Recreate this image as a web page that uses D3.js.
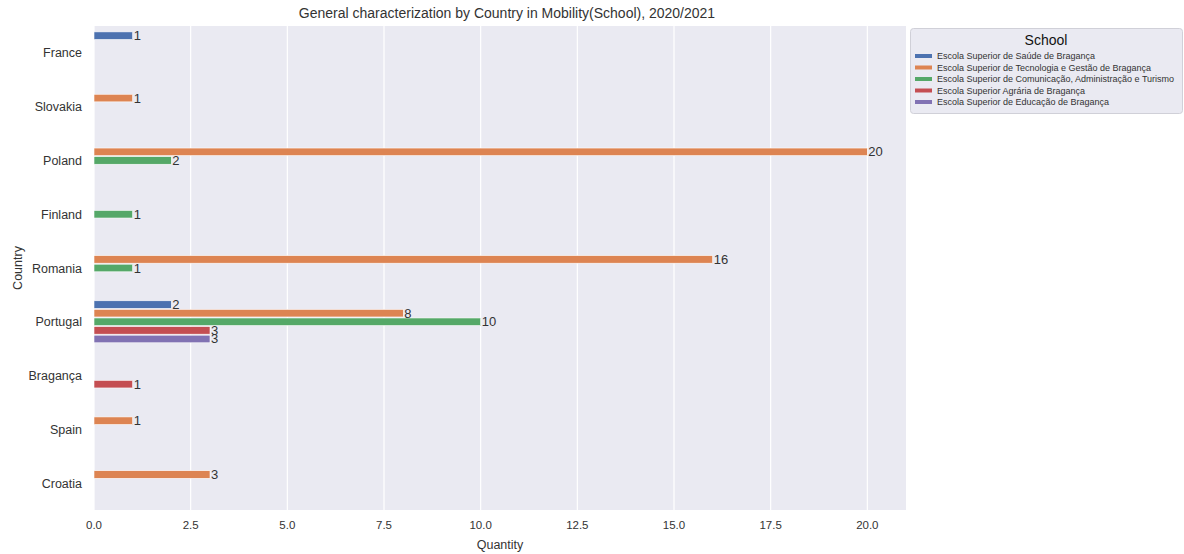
<!DOCTYPE html>
<html><head><meta charset="utf-8">
<script src="https://cdn.jsdelivr.net/npm/d3@7"></script>
<style>body{margin:0;background:#fff;font-family:"Liberation Sans",Arial,sans-serif;}</style>
</head><body>
<svg id="c" width="1184" height="554"></svg>
<script>
const countries = ["France","Slovakia","Poland","Finland","Romania","Portugal","Bragança","Spain","Croatia"];
const schools = ["Escola Superior de Saúde de Bragança","Escola Superior de Tecnologia e Gestão de Bragança","Escola Superior de Comunicação, Administração e Turismo","Escola Superior Agrária de Bragança","Escola Superior de Educação de Bragança"];
const colors = ["#4c72b0","#dd8452","#55a868","#c44e52","#8172b3"];
// values per school, aligned with countries (null = no bar)
const saude     = [1,null,null,null,null,2,null,null,null];
const tecnologia= [null,1,20,null,16,8,null,1,3];
const comunicacao=[null,null,2,1,1,10,null,null,null];
const agraria   = [null,null,null,null,null,3,1,null,null];
const educacao  = [null,null,null,null,null,3,null,null,null];
const series = [saude,tecnologia,comunicacao,agraria,educacao];
const xTicks = [0,2.5,5,7.5,10,12.5,15,17.5,20];

const svg = d3.select("#c");
const m = {l:94, r:906, t:26, b:510};
const x = d3.scaleLinear().domain([0,21]).range([m.l,m.r]);
const y0 = d3.scaleBand().domain(countries).range([m.t,m.b]);
const inner = d3.scaleBand().domain(d3.range(schools.length)).range([0,y0.bandwidth()*0.8]);

svg.append("rect").attr("x",m.l).attr("y",m.t).attr("width",m.r-m.l).attr("height",m.b-m.t).attr("fill","#eaeaf2");
svg.append("g").selectAll("line").data(xTicks).join("line")
  .attr("x1",d=>x(d)).attr("x2",d=>x(d)).attr("y1",m.t).attr("y2",m.b)
  .attr("stroke","#fff").attr("stroke-width",1.2);

const bars = [];
series.forEach((s,i)=>s.forEach((v,j)=>{ if(v!=null) bars.push({i,c:countries[j],v}); }));
const by = d => y0(d.c) + y0.bandwidth()*0.1 + inner(d.i);
svg.append("g").selectAll("rect").data(bars).join("rect")
  .attr("x",x(0)).attr("y",d=>by(d)+0.5).attr("width",d=>x(d.v)-x(0)).attr("height",inner.bandwidth()-1)
  .attr("fill",d=>colors[d.i]).attr("stroke","#fff").attr("stroke-width",0.6);
svg.append("g").selectAll("text").data(bars).join("text")
  .attr("x",d=>x(d.v)+1).attr("y",d=>by(d)+inner.bandwidth()/2+4.5)
  .attr("font-size",13).attr("fill","#333").text(d=>d.v);

// x axis ticks
svg.append("g").selectAll("text").data(xTicks).join("text")
  .attr("x",d=>x(d)).attr("y",529).attr("text-anchor","middle").attr("font-size",11.5).attr("fill","#333")
  .text(d=>d3.format(".1f")(d));
svg.append("text").attr("x",(m.l+m.r)/2).attr("y",549).attr("text-anchor","middle").attr("font-size",12.5).attr("fill","#333").text("Quantity");
// y ticks
svg.append("g").selectAll("text").data(countries).join("text")
  .attr("x",82).attr("y",d=>y0(d)+y0.bandwidth()/2+4.5).attr("text-anchor","end").attr("font-size",12.5).attr("fill","#333").text(d=>d);
svg.append("text").attr("transform",`translate(22,${(m.t+m.b)/2}) rotate(-90)`).attr("text-anchor","middle").attr("font-size",12.5).attr("fill","#333").text("Country");
// title
svg.append("text").attr("x",(m.l+m.r)/2+7).attr("y",18).attr("text-anchor","middle").attr("font-size",14).attr("fill","#333")
  .text("General characterization by Country in Mobility(School), 2020/2021");

// legend
const lg = svg.append("g");
lg.append("rect").attr("x",910.5).attr("y",28.5).attr("width",272).attr("height",85).attr("rx",3)
  .attr("fill","#eaeaf2").attr("stroke","#d0d0d8");
lg.append("text").attr("x",1046).attr("y",45).attr("text-anchor","middle").attr("font-size",14).attr("fill","#111").text("School");
schools.forEach((s,i)=>{
  const yy = 56 + i*11.5;
  lg.append("rect").attr("x",915).attr("y",yy-2).attr("width",17).attr("height",4).attr("fill",colors[i]);
  lg.append("text").attr("x",937).attr("y",yy+3).attr("font-size",9).attr("fill","#333").text(s);
});
</script>
</body></html>
